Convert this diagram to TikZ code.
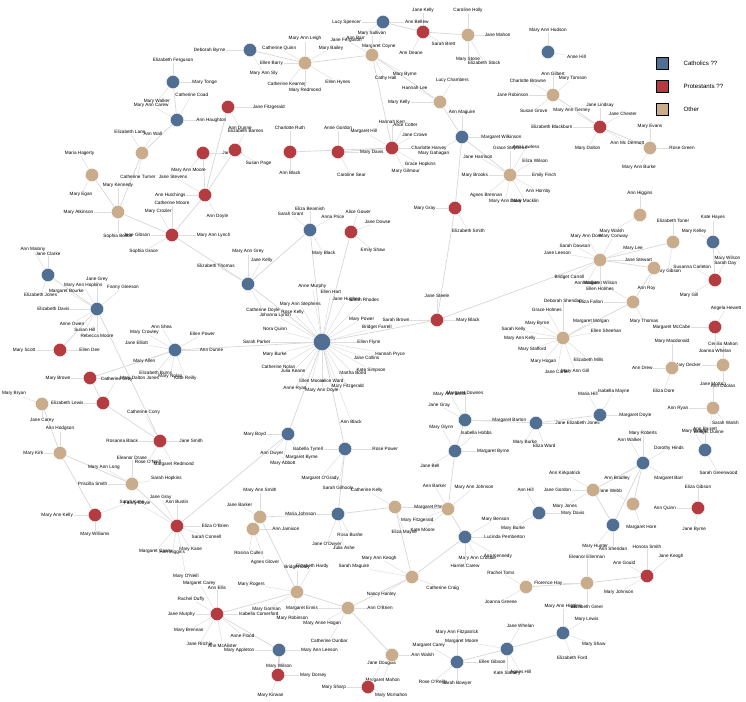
\documentclass[tikz,border=0pt]{standalone}
\usepackage{fontspec}
\setmainfont{Liberation Sans}
\usetikzlibrary{positioning}

\definecolor{catblue}{HTML}{506F93}
\definecolor{protred}{HTML}{B43B40}
\definecolor{othertan}{HTML}{C8AC8B}
\definecolor{linkgrey}{HTML}{D6D6D6}

\tikzset{
  hub/.style={circle,inner sep=0pt,minimum size=10pt,draw=white,line width=0.3pt},
  bighub/.style={hub,minimum size=13pt},
  leaf/.style={inner sep=0.4pt,font=\fontsize{3.5}{4}\selectfont},
  link/.style={draw=linkgrey,line width=0.5pt},
  twig/.style={draw=linkgrey!80,line width=0.35pt},
  keybox/.style={draw=black,line width=0.4pt,minimum size=9pt,inner sep=0pt},
  keytext/.style={right=8pt,font=\fontsize{4.6}{5}\selectfont}
}

% labels hanging off a hub: angle/distance/name
\newcommand{\twigs}[2]{%
  \foreach \ang/\dst/\nm [count=\i, evaluate=\ang as \opp using int(\ang+180)] in {#2}{
    \node[leaf,anchor=\opp] (#1-\i) at ([shift={(\ang:\dst pt)}]#1) {\nm};
    \draw[twig] (#1) -- (#1-\i);
  }}

\begin{document}
\begin{tikzpicture}[x=0.75pt,y=-0.75pt]
\useasboundingbox[fill=white] (0,0) rectangle (746,702);

% Hub positions
\foreach \n/\x/\y in {b1/383/22,b2/250/50,b3/548/52,b4/173/82,b5/177/120,b6/462/137,
  b7/310/230,b8/248/284,b9/322/342,b10/175/350,b11/97/309,b12/48/275,b13/713/242,b14/465/420,
  b15/536/423,b16/600/415,b17/455/451,b18/643/463,b19/705/450,b20/288/434,b21/345/449,
  b22/338/514,b23/465/537,b24/539/513,b25/613/525,b26/563/633,b27/507/649,b28/457/662,
  b29/279/650,
  r1/423/32,r2/228/107,r3/203/153,r4/235/150,r5/290/152,r6/338/152,
  r7/392/148,r8/600/127,r9/205/195,r10/172/235,r11/351/232,r12/455/208,r13/437/320,
  r14/60/350,r15/90/378,r16/103/403,r17/160/441,r18/95/515,r19/177/526,r20/715/280,
  r21/715/327,r22/698/508,r23/647/576,r24/217/614,r25/278/675,r26/368/687,
  t1/468/35,t2/305/63,t3/372/55,t4/440/102,t5/553/95,t6/650/148,
  t7/510/175,t8/640/215,t9/142/153,t10/92/175,t11/118/212,t12/600/260,t13/673/242,
  t14/654/268,t15/633/302,t16/563/338,t17/672/368,t18/723/365,t19/713/408,t20/42/404,
  t21/60/453,t22/132/484,t23/260/517,t24/253/529,t25/395/507,t26/448/509,t27/412/577,
  t28/297/592,t29/348/608,t30/392/655,t31/593/490,t32/633/504,t33/526/587,t34/587/583}
  \coordinate (\n) at (\x,\y);

% Links between hubs
\foreach \u/\v in {b2/t2,t2/t3,t3/t4,t4/b6,b6/t7,b6/r12,r12/r13,r13/b9,t3/r7,r1/b1,r1/t1,
  b7/b9,r11/b9,b8/b9,b10/b9,b9/b20,b9/b21,b20/r19,b21/b22,b22/t23,b22/t25,t25/t26,
  t26/b23,t25/t27,t27/t29,t29/t28,t28/t23,t29/t30,t27/b23,r24/b29,b29/r25,t23/t24,
  r10/r9,r9/r2,r10/b8,r10/t11,t11/t10,t11/t9,t9/b5,b5/b4,r3/r9,r4/r9,b8/b7,
  b11/b12,b11/r14,b11/r17,r15/b10,r15/r16,r16/r17,t20/t21,t21/r18,t21/t22,t22/r19,
  b14/b17,b14/b15,b15/b16,b17/t26,b18/t31,b18/t32,b18/b25,t31/b25,
  t12/t14,t14/t15,t15/t16,t12/t13,b13/r20,r13/t12,b26/b27,b27/b28,t33/t34,r23/t34,
  t5/r8,r8/t6,r5/r7,r6/r7,r24/t28}
  \draw[link] (\u) -- (\v);

% Labels round the hubs
\twigs{b9}{120/30/Mary Ann Stephens,100/40/Anne Murphy,80/36/Ellen Hart,60/34/Jane Hughes,
  45/42/Sarah Rhodes,30/30/Mary Power,15/34/Bridget Farrell,0/26/Ellen Flynn,
  -10/40/Hannah Pryce,-20/30/Jane Collins,-30/38/Kate Simpson,-45/30/Martha Bond,
  -60/36/Mary Fitzgerald,-75/28/Alice Ward,-90/34/Mary Ann Doyle,-105/28/Ellen Moore,
  -120/38/Anne Ryan,-135/28/Julia Keane,-150/34/Catherine Nolan,-165/28/Mary Burke,
  180/38/Sarah Parker,165/28/Nora Quinn,150/36/Johanna Lynch,135/28/Rose Kelly,-70/62/Ann Black}
\twigs{b10}{150/22/Mary Crowley,120/18/Ann Shea,170/20/Jane Elliott,-160/18/Mary Allen,
  -130/20/Elizabeth Burns,-100/18/Mary Nolan,-70/20/Kate Reilly,30/20/Ellen Power,0/18/Ann Dunne}
\twigs{b8}{60/18/Jane Kelly,90/22/Mary Ann Grey,150/24/Elizabeth Thomas,-60/20/Catherine Doyle}
\twigs{b7}{90/14/Eliza Beamish,140/16/Sarah Grant,30/16/Anna Price,-60/18/Mary Black}
\twigs{r11}{70/14/Alice Gower,20/16/Jane Dowse,-40/18/Emily Shaw}
\twigs{r13}{180/20/Sarah Brown,90/16/Jane Steele,0/14/Mary Black}
\twigs{b11}{90/20/Jane Grey,120/18/Mary Ann Hopkins,150/22/Margaret Bourke,
  180/20/Elizabeth Davis,-150/18/Anne Owen,-120/16/Susan Hill,-90/18/Rebecca Moore,40/22/Fanny Gleeson}
\twigs{b12}{90/14/Jane Clarke,-110/14/Elizabeth Jones,120/20/Ann Malony}
\twigs{r14}{0/14/Ellen Dee,180/18/Mary Scott}
\twigs{r15}{180/14/Mary Brown,0/22/Mary Dalton Jones}
\twigs{r16}{180/14/Elizabeth Lewis,60/18/Catherine Grey}
\twigs{t20}{-90/10/Jane Carey,160/16/Mary Bryan}
\twigs{r17}{180/16/Rosanna Black,0/14/Jane Smith,-120/16/Rose O'Neill,-60/18/Margaret Redmond,120/22/Catherine Corry}
\twigs{t21}{180/12/Mary Kirk,90/16/Ann Hodgson}
\twigs{t22}{90/18/Eleanor Drane,150/20/Mary Ann Long,180/18/Priscilla Smith,10/14/Sarah Hopkins}
\twigs{r18}{180/16/Mary Ann Kelly,-90/12/Mary Williams,20/24/Sarah Kane}
\twigs{r19}{90/16/Ann Bustin,120/22/Jane Gray,0/18/Eliza O'Brien,-20/18/Sarah Connell,
  -60/18/Mary Kane,-100/18/Ann Higgins,-130/22/Margaret Casey,150/30/Fanny Doyle,-80/36/Mary O'Neill}
\twigs{b20}{180/16/Mary Boyd,-130/16/Ann Dwyer,-100/20/Mary Abbott,-60/18/Margaret Byrne}
\twigs{b21}{180/16/Isabella Tyrrell,0/20/Rose Power,-130/26/Margaret O'Grady,-100/28/Sarah Gilhooly}
\twigs{b22}{180/16/Maria Johnson,-60/16/Rosa Bushe,-110/22/Jane O'Dwyer,-80/24/Julia Ashe}
\twigs{t23}{90/18/Mary Ann Smith,150/14/Jane Barker}
\twigs{t24}{0/14/Ann Jamison,-100/16/Rosina Cullen,-70/24/Agnes Glover}
\twigs{t25}{150/20/Catherine Kelly,0/14/Margaret Phelan,-70/18/Eliza Mayne}
\twigs{t26}{120/18/Ann Barker,40/22/Mary Ann Johnson,-160/18/Mary Fitzgerald,-140/22/Kate Moore}
\twigs{b23}{30/22/Mary Benson,0/14/Lucinda Pemberton,-60/16/Mary Ann Crosbie,-30/24/Ann Kennedy,-90/20/Harriet Carew}
\twigs{t27}{-20/18/Catherine Craig,150/24/Mary Ann Keogh,170/32/Sarah Maguire,-150/22/Nancy Hanley}
\twigs{t28}{90/16/Bridget Daly,60/20/Elizabeth Hardy,170/24/Mary Rogers,-150/22/Mary Gorman,-100/18/Mary Robinson}
\twigs{t29}{0/14/Ann O'Brien,-150/18/Mary Anne Hogan,-120/26/Catherine Dunbar,180/22/Margaret Ennis}
\twigs{t30}{0/14/Ann Walsh,-110/18/Margaret Mahon}
\twigs{r26}{180/16/Mary Sharp,60/18/Jane Douglas,-20/12/Mary Mcmahon}
\twigs{r24}{90/18/Ann Ellis,120/24/Margaret Carey,150/18/Rachel Duffy,0/16/Isabella Comerford,
  180/16/Jane Murphy,-150/20/Mary Brennan,-120/24/Jane Ritchie,-80/22/Ann McAlister,-40/22/Anne Flood}
\twigs{b29}{180/18/Mary Appleton,0/16/Mary Ann Leeson,-90/10/Mary Wilson}
\twigs{r25}{0/16/Mary Dorsey,-110/14/Mary Kirwan}
\twigs{b28}{90/20/Mary Ann Fitzpatrick,150/20/Margaret Carey,0/16/Ellen Gibson,-90/14/Sarah Bowyer,-140/20/Rose O'Reilly}
\twigs{b27}{170/22/Margaret Moore,60/18/Jane Whelan,-60/18/Agnes Hill,-90/16/Kate Slattery}
\twigs{b26}{90/18/Mary Ann Higgins,30/16/Mary Lewis,-20/18/Mary Shaw,-70/18/Elizabeth Ford}
\twigs{t33}{150/18/Rachel Toms,-150/18/Joanna Greene}
\twigs{t34}{90/18/Eleanor Ellerman,-90/16/Elizabeth Greer,180/18/Florence Hay}
\twigs{r23}{90/20/Honora Smith,150/16/Ann Gould,-150/20/Mary Johnson,40/20/Jane Keogh}
\twigs{b24}{120/18/Ann Hill,0/16/Mary Davis,-150/18/Mary Burke}
\twigs{b25}{-90/16/Ann Sheridan,-130/18/Mary Hunter}
\twigs{t31}{150/20/Ann Kirkpatrick,180/16/Jane Gordon,-150/20/Mary Jones}
\twigs{t32}{-70/16/Margaret Hore,150/16/Jane Webb}
\twigs{b18}{90/20/Mary Roberts,120/18/Ann Walker,30/18/Dorothy Hinds,-30/18/Margaret Barr,-150/18/Ann Bradley}
\twigs{b19}{90/14/Ann Barrett,120/14/Mary Grace,-60/18/Sarah Greenwood}
\twigs{r22}{90/14/Eliza Gibson,180/16/Ann Quinn,-100/14/Jane Byrne}
\twigs{b17}{120/18/Mary Glynn,40/18/Isabella Hobbs,0/16/Margaret Byrne,-150/18/Jane Bell}
\twigs{b14}{90/18/Margaret Downes,120/20/Mary Ann Smith,150/18/Jane Gray,0/20/Margaret Barton}
\twigs{b15}{0/14/Jane Elizabeth Jones,-120/14/Mary Burke,-70/16/Eliza Ward}
\twigs{b16}{60/18/Isabella Mayne,0/14/Margaret Doyle,120/16/Maria Hill}
\twigs{t19}{90/16/Jane Morton,180/18/Ann Ryan,-50/12/Sarah Walsh,-100/16/Bridget Dunne}
\twigs{t17}{90/18/Mary Macdonald,180/14/Ann Drew,-110/16/Eliza Dore}
\twigs{t18}{90/14/Cecilia Mahon,180/16/Mary Decker,-90/14/Ann Doolan}
\twigs{r21}{60/14/Angela Hewett,180/18/Margaret McCabe,-90/16/Joanna Whelan}
\twigs{r20}{150/16/Susanna Carleton,-150/18/Mary Gill,60/16/Mary Wilson}
\twigs{b13}{150/12/Mary Kelley,90/16/Kate Hayes,-60/16/Sarah Day}
\twigs{t13}{90/14/Elizabeth Toner,-100/20/Mary Gibson}
\twigs{t16}{90/26/Deborah Sheridan,120/22/Grace Holmes,150/18/Mary Byrne,170/28/Sarah Kelly,
  180/20/Mary Ann Kelly,-160/18/Mary Stafford,-130/20/Mary Hogan,-100/24/Jane Carter,
  -70/24/Mary Ann Gill,-40/22/Elizabeth Mills,10/22/Ellen Sheehan,30/20/Margaret Morgan}
\twigs{t15}{180/22/Eliza Fallon,150/24/Margaret Wilson,-60/14/Mary Thomas}
\twigs{t12}{120/18/Mary Ann Dore,150/18/Sarah Dawson,170/22/Jane Leeson,-150/22/Bridget Carroll,
  -120/18/Ann Walker,-90/20/Ellen Holmes,0/18/Jane Stewart,60/18/Mary Conway,20/20/Mary Lee}
\twigs{t14}{-110/14/Ann Roy}
\twigs{t8}{90/14/Ann Higgins,-150/20/Mary Walsh}
\twigs{t6}{90/14/Mary Evans,0/14/Rose Green,-120/14/Mary Ann Burke}
\twigs{r8}{90/14/Jane Lindsay,150/20/Mary Ann Tierney,180/20/Elizabeth Blackburn,30/16/Jane Chester,-30/20/Ann Mc Dermott,-120/16/Mary Dalton}
\twigs{t5}{90/14/Ann Gilbert,40/16/Mary Tomson,180/18/Jane Robinson,150/18/Charlotte Browne,-140/16/Susan Grove}
\twigs{b3}{90/14/Mary Ann Hudson,-10/14/Anne Hill}
\twigs{t1}{90/16/Caroline Holly,0/12/Jane Mahon,-90/16/Mary Stone,-60/22/Elizabeth Stock}
\twigs{r1}{90/14/Jane Kelly,-30/14/Sarah Brett,-120/16/Ann Deane}
\twigs{b1}{180/16/Lucy Spencer,0/16/Ann Bellew,-150/20/Ann Barr,-100/16/Margaret Coyne}
\twigs{t4}{150/18/Hannah Lee,180/22/Mary Kelly,60/16/Lucy Chambers}
\twigs{b6}{0/14/Margaret Wilkinson,90/16/Ann Maguire,-150/20/Mary Gahagan}
\twigs{t7}{90/18/Grace Stephens,60/22/Ann Lawless,30/18/Eliza Wilson,0/16/Emily Finch,-30/20/Ann Hornby,
  -60/20/Mary Macklin,-100/18/Mary Ann Duke,-140/20/Agnes Brennan,180/16/Mary Brooks,150/24/Jane Harrison}
\twigs{r12}{180/14/Mary Gray,-60/18/Elizabeth Smith}
\twigs{r7}{90/18/Hannah Kerr,60/18/Alice Cotter,30/16/Jane Crowe,0/14/Charlotte Harvey,
  -30/20/Grace Hopkins,-60/18/Mary Gilmour,150/20/Margaret Hill}
\twigs{t3}{90/14/Mary Sullivan,150/18/Jane Ferguson,-60/18/Cathy Hall,-30/24/Mary Byrne}
\twigs{t2}{90/16/Mary Ann Leigh,30/18/Mary Bailey,150/18/Catherine Quinn,180/16/Ellen Barry,-130/18/Catherine Kearney,-90/18/Mary Redmond,-30/24/Ellen Hynes}
\twigs{b2}{180/18/Deborah Byrne,-60/18/Mary Ann Sly}
\twigs{b4}{90/14/Elizabeth Ferguson,0/14/Mary Tonge,-130/16/Mary Walker}
\twigs{b5}{150/18/Mary Ann Carew,60/20/Catherine Coad,0/14/Ann Haughton}
\twigs{r2}{0/18/Jane Fitzgerald,-60/16/Ann Dunne}
\twigs{r3}{-130/14/Mary Ann Moore,0/14/Jane Hall}
\twigs{r4}{60/14/Elizabeth Barnes,-30/16/Susan Page}
\twigs{r5}{90/16/Charlotte Ruth,-90/14/Ann Black}
\twigs{r6}{90/16/Anne Gordon,0/16/Mary Davis,-60/18/Caroline Sear}
\twigs{r9}{180/14/Ann Hutchings,150/24/Jane Stevens,-60/16/Ann Doyle}
\twigs{r10}{90/22/Catherine Moore,120/18/Mary Crozier,180/16/Jane Gibson,-150/20/Sophia Grace,0/18/Mary Ann Lynch}
\twigs{t9}{120/16/Elizabeth Lane,-100/16/Catherine Turner,60/14/Ann Wall}
\twigs{t10}{120/16/Maria Hagerty,-120/14/Mary Egan}
\twigs{t11}{180/18/Mary Atkinson,90/18/Mary Kennedy,-90/16/Sophia Bolton}

% Hub discs on top
\foreach \n in {b1,b2,b3,b4,b5,b6,b7,b8,b10,b11,b12,b13,b14,b15,b16,b17,b18,b19,b20,
  b21,b22,b23,b24,b25,b26,b27,b28,b29}
  \node[hub,fill=catblue] at (\n) {};
\node[bighub,fill=catblue] at (b9) {};
\foreach \n in {r1,r2,r3,r4,r5,r6,r7,r8,r9,r10,r11,r12,r13,r14,r15,r16,r17,r18,r19,
  r20,r21,r22,r23,r24,r25,r26}
  \node[hub,fill=protred] at (\n) {};
\foreach \n in {t1,t2,t3,t4,t5,t6,t7,t8,t9,t10,t11,t12,t13,t14,t15,t16,t17,t18,t19,
  t20,t21,t22,t23,t24,t25,t26,t27,t28,t29,t30,t31,t32,t33,t34}
  \node[hub,fill=othertan] at (\n) {};

% Legend
\node[keybox,fill=catblue] (keycat) at (662,63) {};
\node[keybox,fill=protred,below=8pt of keycat] (keyprot) {};
\node[keybox,fill=othertan,below=8pt of keyprot] (keyoth) {};
\node[keytext] at (keycat.east) {Catholics ??};
\node[keytext] at (keyprot.east) {Protestants ??};
\node[keytext] at (keyoth.east) {Other};
\end{tikzpicture}
\end{document}
